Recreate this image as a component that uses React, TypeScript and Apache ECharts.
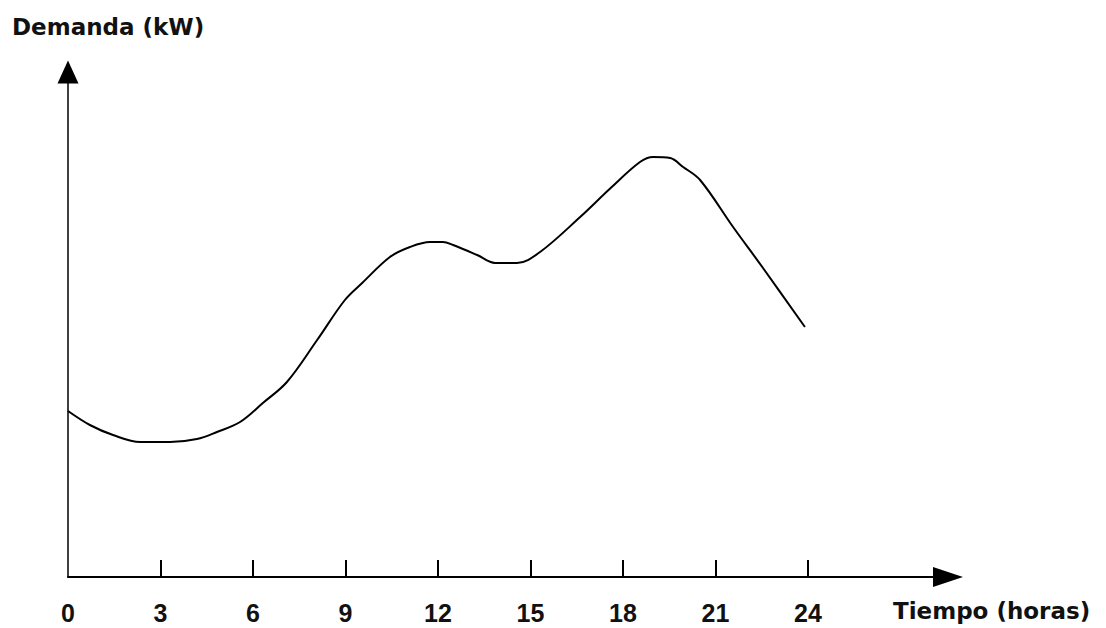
import React, { useEffect, useRef } from "react";
import * as echarts from "echarts";

const hours = [0, 0.71, 1.46, 2.34, 3.31, 4.18, 4.83, 5.58, 6.32, 7.1, 8.08, 8.98, 9.54, 10.44, 11.09, 11.74, 12.16, 12.49, 13.27, 13.85, 14.56, 15.31, 16.61, 17.6, 18.55, 18.98, 19.53, 19.95, 20.5, 21.57, 22.54, 23.9];
const demand = [166, 152, 142, 135, 135, 138, 145, 155, 174, 195, 237, 277, 294, 320, 330, 335, 335, 332, 322, 314, 314, 325, 360, 389, 415, 420, 419, 410, 397, 350, 309, 250];
const tickLabels = [0, 3, 6, 9, 12, 15, 18, 21, 24];
const tickMarks = [3, 6, 9, 12, 15, 18, 21, 24];
const yTitle = "Demanda (kW)";
const xTitle = "Tiempo (horas)";

export default function App() {
  const ref = useRef<HTMLDivElement>(null);
  useEffect(() => {
    if (!ref.current) return;
    const chart = echarts.init(ref.current, null, { renderer: "svg" });
    const data = hours.map((h, i) => [h, demand[i]]);
    chart.setOption({
      animation: false,
      backgroundColor: "#ffffff",
      title: [
        {
          text: yTitle,
          left: 12,
          top: 15,
          padding: 0,
          textStyle: { fontFamily: "DejaVu Sans", fontSize: 23, fontWeight: "bold", color: "#111" },
        },
        {
          text: xTitle,
          left: 893,
          top: 599,
          padding: 0,
          textStyle: { fontFamily: "DejaVu Sans", fontSize: 23, fontWeight: "bold", color: "#111" },
        },
      ],
      grid: { left: 68, right: 158, top: 72, bottom: 51 },
      xAxis: {
        type: "value",
        min: 0,
        max: 28.54,
        splitLine: { show: false },
        axisLine: {
          show: true,
          symbol: ["none", "triangle"],
          symbolSize: [20, 30],
          lineStyle: { color: "#000", width: 2 },
        },
        axisTick: {
          show: true,
          inside: true,
          length: 17,
          customValues: tickMarks,
          lineStyle: { color: "#000", width: 2 },
        },
        axisLabel: {
          show: true,
          customValues: tickLabels,
          margin: 23,
          fontFamily: "Liberation Sans",
          fontWeight: "bold",
          fontSize: 25,
          color: "#111",
        },
      },
      yAxis: {
        type: "value",
        min: 0,
        max: 505,
        splitLine: { show: false },
        axisTick: { show: false },
        axisLabel: { show: false },
        axisLine: {
          show: true,
          symbol: ["none", "triangle"],
          symbolSize: [21, 23],
          lineStyle: { color: "#000", width: 1.5 },
        },
      },
      series: [
        {
          type: "line",
          data,
          smooth: 0.35,
          showSymbol: false,
          lineStyle: { color: "#000", width: 2 },
        },
      ],
    });
    return () => chart.dispose();
  }, []);
  return (
    <div
      ref={ref}
      style={{ position: "absolute", left: 0, top: 0, width: 1106, height: 628 }}
    />
  );
}
